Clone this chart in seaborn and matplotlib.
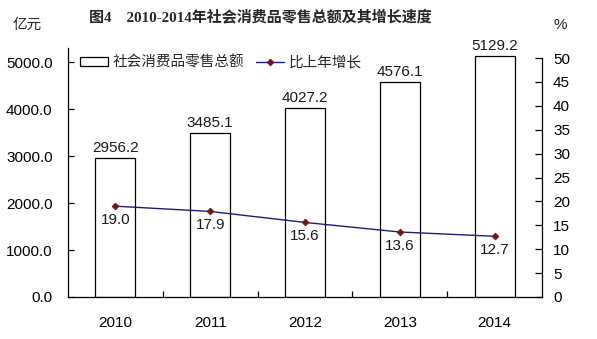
import matplotlib
matplotlib.use("Agg")
import matplotlib.pyplot as plt
import seaborn as sns
import pandas as pd
from matplotlib.ticker import FixedLocator

# Data
years = ["2010", "2011", "2012", "2013", "2014"]
retail_sales = [2956.2, 3485.1, 4027.2, 4576.1, 5129.2]   # 亿元
growth_rate = [19.0, 17.9, 15.6, 13.6, 12.7]              # %
left_ticks = [0, 1000, 2000, 3000, 4000, 5000]
right_ticks = [0, 5, 10, 15, 20, 25, 30, 35, 40, 45, 50]

df = pd.DataFrame({"year": years, "sales": retail_sales, "growth": growth_rate})

sns.set_style("white")
plt.rcParams["font.family"] = ["Liberation Sans", "Noto Sans CJK SC", "DejaVu Sans"]
plt.rcParams["axes.linewidth"] = 0.9

fig = plt.figure(figsize=(5.97, 3.39), dpi=100)
ax = fig.add_axes([68 / 597, 42 / 339, 474 / 597, 249 / 339])

# Bars: retail sales
sns.barplot(data=df, x="year", y="sales", ax=ax, color="white", width=0.42,
            edgecolor="black", linewidth=0.9, saturation=1,
            label="社会消费品零售总额")
if ax.get_legend() is not None:
    ax.get_legend().remove()
ax.set_xlim(-0.5, 4.5)
ax.set_ylim(0, 5300)
ax.set_xlabel("")
ax.set_ylabel("")

for i, v in enumerate(retail_sales):
    ax.annotate(f"{v:.1f}", (i, v), xytext=(0, 2), textcoords="offset points",
                ha="center", va="bottom", fontsize=11, color="#1a1a1a")

# Growth line on the secondary axis
ax2 = ax.twinx()
sns.pointplot(data=df, x="year", y="growth", ax=ax2, color="#1c1c78",
              markers="D", linestyles="-", label="比上年增长")
for ln in ax2.lines:
    ln.set_linewidth(1.0)
    ln.set_markersize(3.5)
    ln.set_markeredgewidth(0.5)
    ln.set_markerfacecolor("#701414")
    ln.set_markeredgecolor("#701414")
ax2.set_xlim(-0.5, 4.5)
ax2.set_ylim(0, 50 * 249 / 239)
ax2.set_ylabel("")
ax2.set_xlabel("")

for i, v in enumerate(growth_rate):
    ax2.annotate(f"{v:.1f}", (i, v), xytext=(0, -5), textcoords="offset points",
                 ha="center", va="top", fontsize=11, color="#1a1a1a")

# Axes styling
for a in (ax, ax2):
    a.spines["top"].set_visible(False)
    for s in a.spines.values():
        s.set_color("black")
ax.spines["right"].set_visible(False)
ax2.spines["left"].set_visible(False)
ax2.spines["bottom"].set_visible(False)
ax2.spines["right"].set_bounds(0, 50)

ax.set_yticks(left_ticks)
ax.set_yticklabels([f"{t:.1f}" for t in left_ticks])
ax.tick_params(axis="y", direction="in", length=4, width=0.9, pad=11,
               labelsize=11, colors="black", left=True)
ax2.set_yticks(right_ticks)
ax2.set_yticklabels([str(t) for t in right_ticks])
ax2.tick_params(axis="y", direction="in", length=5, width=0.9, pad=8,
                labelsize=11, colors="black", right=True)

ax.set_xticks(range(len(years)))
ax.set_xticklabels(years)
ax.xaxis.set_minor_locator(FixedLocator([0.5, 1.5, 2.5, 3.5]))
ax.tick_params(axis="x", which="major", length=0, pad=14, labelsize=11,
               colors="black")
ax.tick_params(axis="x", which="minor", direction="in", length=4, width=0.9,
               bottom=True, color="black")
ax2.tick_params(axis="x", which="both", bottom=False, top=False)

# Legend combining both series
h1, l1 = ax.get_legend_handles_labels()
h2, l2 = ax2.get_legend_handles_labels()
if ax2.get_legend() is not None:
    ax2.get_legend().remove()
leg = ax2.legend(h1 + h2, l1 + l2, loc="upper left", bbox_to_anchor=(0.01, 1.0),
                 ncol=2, frameon=False, fontsize=10.5, handlelength=1.9,
                 handleheight=0.55, handletextpad=0.35, columnspacing=0.8,
                 borderaxespad=0.1)

# Titles and unit labels
fig.text(260 / 597, 1 - 18 / 339, "图4　2010-2014年社会消费品零售总额及其增长速度",
         ha="center", va="center", fontsize=10.8, fontweight="bold",
         family=["Liberation Serif", "Noto Sans CJK SC"])
fig.text(27 / 597, 1 - 25 / 339, "亿元", ha="center", va="center", fontsize=10.5,
         family=["Noto Sans CJK SC", "DejaVu Sans"])
fig.text(560 / 597, 1 - 25 / 339, "%", ha="center", va="center", fontsize=11)

fig.savefig("out.png", dpi=100, facecolor="white")
